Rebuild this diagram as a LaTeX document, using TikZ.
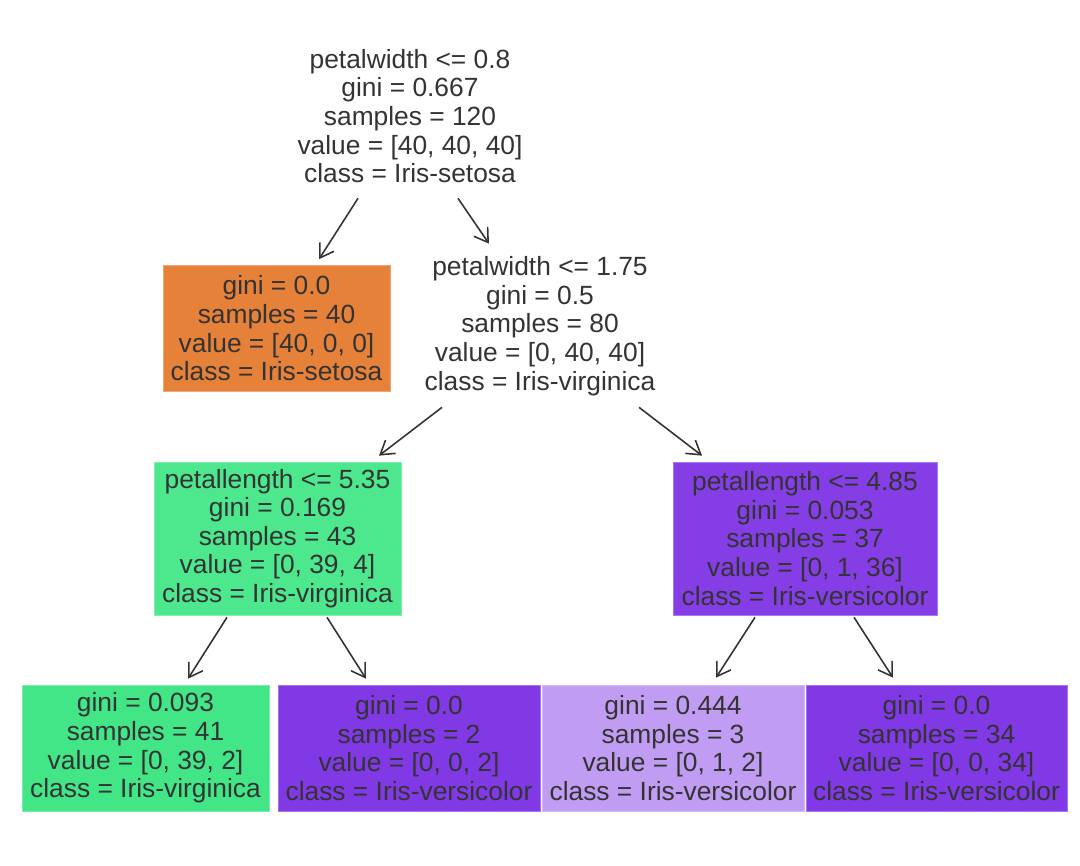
\documentclass[tikz,border=0pt]{standalone}
\usepackage{fontspec}
\setmainfont{Liberation Sans}
\usetikzlibrary{calc,arrows.meta}
\definecolor{setosa}{HTML}{E58139}
\definecolor{virgA}{HTML}{4DE88E}
\definecolor{virgB}{HTML}{43E687}
\definecolor{versA}{HTML}{853EE6}
\definecolor{versB}{HTML}{8139E5}
\definecolor{versC}{HTML}{C09CF2}
\begin{document}
\begin{tikzpicture}[x=0.02cm,y=-0.02cm,
  box/.style={align=center,inner sep=0pt,minimum height=3.06cm,font=\fontsize{15}{16.3}\selectfont,text=black!80},
  leaf/.style={box,minimum height=2.52cm},
  tint/.style={fill=#1,draw=#1!70!white,line width=0.4pt},
  edge/.style={draw=black!80,line width=0.9pt,-{Straight Barb[length=7.5pt,width=9.5pt]}}]
\useasboundingbox (0,0) rectangle (1080,866);
\node[box,minimum width=4.6cm] (root) at (410,116) {petalwidth <= 0.8\\gini = 0.667\\samples = 120\\value = [40, 40, 40]\\class = Iris-setosa};
\node[leaf,tint=setosa,minimum width=4.54cm] (setosa) at (276.5,328.5) {gini = 0.0\\samples = 40\\value = [40, 0, 0]\\class = Iris-setosa};
\node[box,minimum width=4.6cm] (split2) at (540,326) {petalwidth <= 1.75\\gini = 0.5\\samples = 80\\value = [0, 40, 40]\\class = Iris-virginica};
\node[box,tint=virgA,minimum width=4.94cm] (virg) at (277.5,538.5) {petallength <= 5.35\\gini = 0.169\\samples = 43\\value = [0, 39, 4]\\class = Iris-virginica};
\node[box,tint=versA,minimum width=5.28cm] (vers) at (805,538.5) {petallength <= 4.85\\gini = 0.053\\samples = 37\\value = [0, 1, 36]\\class = Iris-versicolor};
\node[leaf,tint=virgB,minimum width=4.94cm] (leafA) at (145.5,748) {gini = 0.093\\samples = 41\\value = [0, 39, 2]\\class = Iris-virginica};
\node[leaf,tint=versB,minimum width=5.24cm] (leafB) at (409,748) {gini = 0.0\\samples = 2\\value = [0, 0, 2]\\class = Iris-versicolor};
\node[leaf,tint=versC,minimum width=5.24cm] (leafC) at (673,748) {gini = 0.444\\samples = 3\\value = [0, 1, 2]\\class = Iris-versicolor};
\node[leaf,tint=versB,minimum width=5.22cm] (leafD) at (936.5,748) {gini = 0.0\\samples = 34\\value = [0, 0, 34]\\class = Iris-versicolor};
\draw[edge] ($(root.south)+(-52,5.5)$) -- ($(setosa.north)+(42.5,-6)$);
\draw[edge] ($(root.south)+(48,5.5)$) -- ($(split2.north)+(-51,-5.5)$);
\draw[edge] ($(split2.south)+(-98,4.5)$) -- ($(virg.north)+(101.5,-6)$);
\draw[edge] ($(split2.south)+(99,4.5)$) -- ($(vers.north)+(-103,-6)$);
\draw[edge] ($(virg.south)+(-50.5,2)$) -- ($(leafA.north)+(42.5,-6)$);
\draw[edge] ($(virg.south)+(49.5,2)$) -- ($(leafB.north)+(-43,-6)$);
\draw[edge] ($(vers.south)+(-50,2)$) -- ($(leafC.north)+(43,-7)$);
\draw[edge] ($(vers.south)+(49,2)$) -- ($(leafD.north)+(-43.5,-7)$);
\end{tikzpicture}
\end{document}
